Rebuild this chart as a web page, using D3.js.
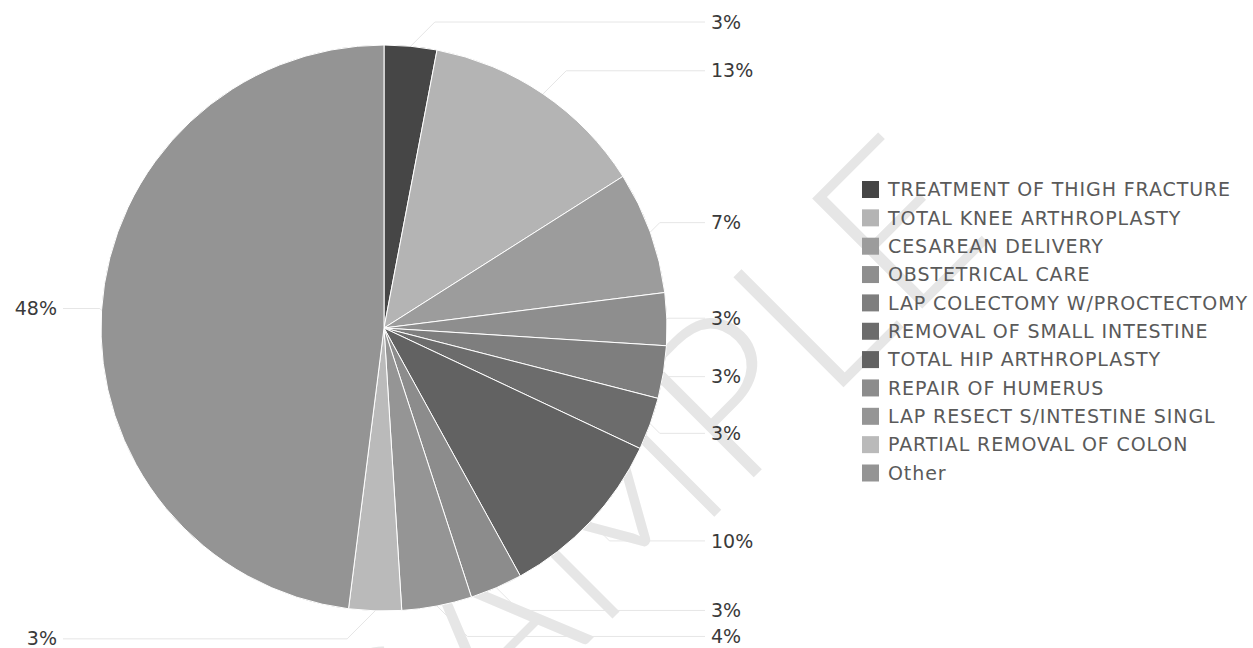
<!DOCTYPE html>
<html>
<head>
<meta charset="utf-8">
<script src="https://cdn.jsdelivr.net/npm/d3@7"></script>
<style>
  html, body { margin: 0; padding: 0; background: #fff; }
  svg { display: block; }
</style>
</head>
<body>
<svg id="chart" width="1253" height="648"></svg>
<script>
// Procedure mix, share of cases (percent)
const categories = [
  "TREATMENT OF THIGH FRACTURE",
  "TOTAL KNEE ARTHROPLASTY",
  "CESAREAN DELIVERY",
  "OBSTETRICAL CARE",
  "LAP COLECTOMY W/PROCTECTOMY",
  "REMOVAL OF SMALL INTESTINE",
  "TOTAL HIP ARTHROPLASTY",
  "REPAIR OF HUMERUS",
  "LAP RESECT S/INTESTINE SINGL",
  "PARTIAL REMOVAL OF COLON",
  "Other"
];
const values = [3, 13, 7, 3, 3, 3, 10, 3, 4, 3, 48];
const shades = [
  "#464646", "#b4b4b4", "#9c9c9c", "#8e8e8e", "#7e7e7e", "#6c6c6c",
  "#626262", "#8c8c8c", "#959595", "#bababa", "#949494"
];

const svg = d3.select("#chart");
const cx = 384, cy = 328, r = 283;
const labelDist = 28;     // radial distance used to place data labels
const labelGap = 44;      // label column offset beyond the pie edge
const minSpacing = 26;
const minLabelY = 22;

// faint diagonal watermark, behind everything
svg.append("text")
  .attr("transform", "translate(650,472) rotate(-45)")
  .attr("text-anchor", "middle")
  .attr("dy", "0.35em")
  .style("font-family", "Lato, 'DejaVu Sans', sans-serif")
  .style("font-weight", 300)
  .style("font-size", "220px")
  .style("fill", "#e6e6e6")
  .text("SAMPLE");

const color = d3.scaleOrdinal().domain(categories).range(shades);
const total = d3.sum(values);
const data = categories.map((c, i) => ({ name: c, value: values[i] }));

const pie = d3.pie().value(d => d.value).sort(null);
const arcs = pie(data);
const arc = d3.arc().innerRadius(0).outerRadius(r);

const g = svg.append("g").attr("transform", `translate(${cx},${cy})`);
g.selectAll("path.slice")
  .data(arcs)
  .join("path")
  .attr("class", "slice")
  .attr("d", arc)
  .attr("fill", d => color(d.data.name))
  .attr("stroke", "#ffffff")
  .attr("stroke-width", 1)
  .attr("stroke-linejoin", "round");

// data label layout: initial position on a wider circle, then spread per side
const labels = arcs.map(a => {
  const mid = (a.startAngle + a.endAngle) / 2;
  const side = Math.sin(mid) >= 0 ? 1 : -1;
  return {
    a, mid, side,
    ex: cx + r * Math.sin(mid),
    ey: cy - r * Math.cos(mid),
    y: Math.max(minLabelY, cy - (r + labelDist) * Math.cos(mid)),
    text: Math.round(a.data.value / total * 100) + "%"
  };
});
[1, -1].forEach(s => {
  const list = labels.filter(l => l.side === s).sort((p, q) => p.y - q.y);
  for (let pass = 0; pass < 20; pass++) {
    for (let i = 1; i < list.length; i++) {
      const gap = list[i].y - list[i - 1].y;
      if (gap < minSpacing) {
        const shift = (minSpacing - gap) / 2;
        list[i - 1].y -= shift;
        list[i].y += shift;
      }
    }
  }
});

const lg = svg.append("g");
labels.forEach(l => {
  const tx = l.side > 0 ? cx + r + labelGap : cx - r - labelGap;
  const endX = tx - l.side * 6;
  let kx = l.ex + l.side * Math.abs(l.y - l.ey);
  if (l.side > 0) kx = Math.min(kx, endX); else kx = Math.max(kx, endX);
  lg.append("path")
    .attr("d", d3.line()([[l.ex, l.ey], [kx, l.y], [endX, l.y]]))
    .attr("fill", "none")
    .attr("stroke", "#e6e6e6")
    .attr("stroke-width", 1);
  lg.append("text")
    .attr("x", tx)
    .attr("y", l.y)
    .attr("dy", "0.35em")
    .attr("text-anchor", l.side > 0 ? "start" : "end")
    .style("font-family", "'DejaVu Sans', Verdana, sans-serif")
    .style("font-size", "19px")
    .style("fill", "#3a3a3a")
    .text(l.text);
});

// legend
const legendX = 862, legendY = 189.5, rowH = 28.35, sw = 17;
const leg = svg.append("g").attr("transform", `translate(${legendX},${legendY})`);
const rows = leg.selectAll("g.row")
  .data(categories)
  .join("g")
  .attr("class", "row")
  .attr("transform", (d, i) => `translate(0,${i * rowH})`);
rows.append("rect")
  .attr("x", 0).attr("y", -sw / 2)
  .attr("width", sw).attr("height", sw)
  .attr("fill", d => color(d));
rows.append("text")
  .attr("x", 26)
  .attr("dy", "0.36em")
  .style("font-family", "'DejaVu Sans', Verdana, sans-serif")
  .style("font-size", "19px")
  .style("letter-spacing", "0.9px")
  .style("fill", "#5a5a5a")
  .text(d => d);
</script>
</body>
</html>
